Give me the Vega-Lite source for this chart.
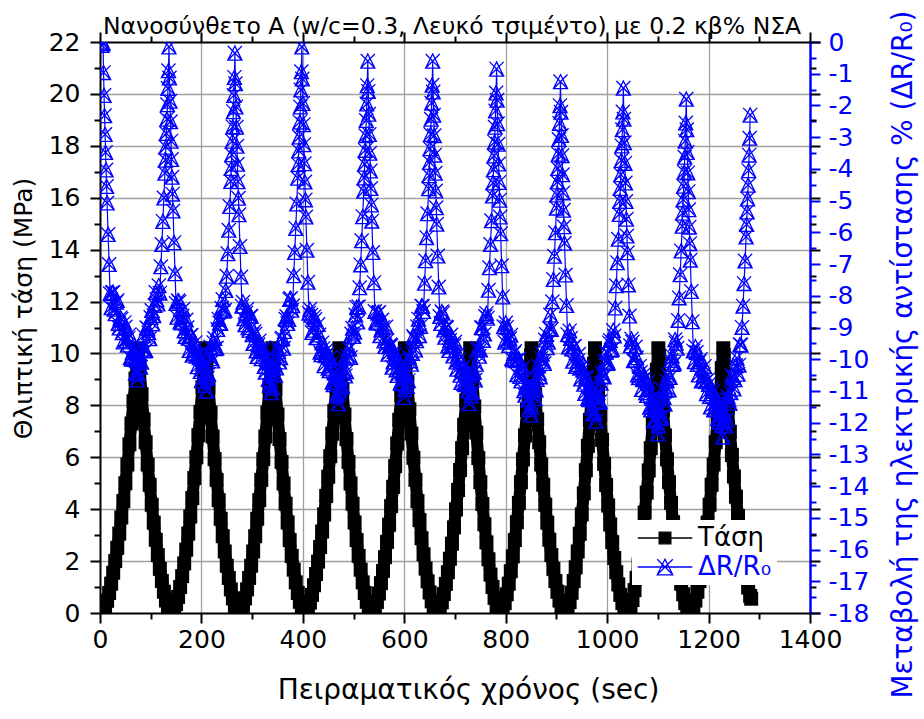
{
"$schema": "https://vega.github.io/schema/vega-lite/v6.json",
"width": 710, "height": 571,
"autosize": {"type": "none"},
"padding": {"left": 100, "top": 42, "right": 114, "bottom": 106},
"background": "white",
"config": {"font": "DejaVu Sans", "view": {"stroke": null}, "axis": {"labelFont": "DejaVu Sans", "titleFont": "DejaVu Sans", "titleFontWeight": "normal", "labelOverlap": false, "labelFlush": false}},
"title": {"text": "Νανοσύνθετο A (w/c=0.3, Λευκό τσιμέντο) με 0.2 κβ% ΝΣΑ", "fontSize": 23.5, "fontWeight": "normal", "anchor": "start", "frame": "group", "dx": 3, "offset": -52, "baseline": "bottom", "font": "DejaVu Sans", "color": "black"},
"datasets": {
"stress": [
{"t":2,"s":0},{"t":6,"s":0.07},{"t":10,"s":0.24},{"t":14,"s":0.47},{"t":18,"s":0.77},{"t":22,"s":1.13},{"t":26,"s":1.55},{"t":30,"s":2.0},{"t":34,"s":2.51},{"t":38,"s":3.06},{"t":42,"s":3.68},{"t":46,"s":4.31},{"t":50,"s":5.0},{"t":54,"s":5.72},{"t":58,"s":6.5},{"t":62,"s":7.3},{"t":66,"s":8.16},{"t":70,"s":9.03},{"t":74,"s":10.0},{"t":75,"s":10.2},{"t":78,"s":9.44},{"t":82,"s":8.43},{"t":86,"s":7.46},{"t":90,"s":6.58},{"t":94,"s":5.72},{"t":98,"s":4.94},{"t":102,"s":4.17},{"t":106,"s":3.48},{"t":110,"s":2.82},{"t":114,"s":2.23},{"t":118,"s":1.7},{"t":122,"s":1.23},{"t":126,"s":0.82},{"t":130,"s":0.48},{"t":134,"s":0.22},{"t":138,"s":0.05},
{"t":142,"s":0.0},{"t":146,"s":0.12},{"t":150,"s":0.34},{"t":154,"s":0.62},{"t":158,"s":1.0},{"t":162,"s":1.42},{"t":166,"s":1.91},{"t":170,"s":2.44},{"t":174,"s":3.06},{"t":178,"s":3.72},{"t":182,"s":4.43},{"t":186,"s":5.2},{"t":190,"s":6.0},{"t":194,"s":6.85},{"t":198,"s":7.75},{"t":202,"s":8.7},{"t":206,"s":9.68},{"t":208,"s":10.2},{"t":210,"s":9.68},{"t":214,"s":8.68},{"t":218,"s":7.72},{"t":222,"s":6.8},{"t":226,"s":5.93},{"t":230,"s":5.13},{"t":234,"s":4.35},{"t":238,"s":3.63},{"t":242,"s":2.96},{"t":246,"s":2.37},{"t":250,"s":1.82},{"t":254,"s":1.35},{"t":258,"s":0.91},{"t":262,"s":0.56},{"t":266,"s":0.28},{"t":270,"s":0.09},{"t":274,"s":0},
{"t":278,"s":0.09},{"t":282,"s":0.28},{"t":286,"s":0.56},{"t":290,"s":0.91},{"t":294,"s":1.35},{"t":298,"s":1.82},{"t":302,"s":2.37},{"t":306,"s":2.96},{"t":310,"s":3.63},{"t":314,"s":4.35},{"t":318,"s":5.13},{"t":322,"s":5.93},{"t":326,"s":6.8},{"t":330,"s":7.72},{"t":334,"s":8.68},{"t":338,"s":9.68},{"t":340,"s":10.2},{"t":342,"s":9.66},{"t":346,"s":8.63},{"t":350,"s":7.65},{"t":354,"s":6.7},{"t":358,"s":5.82},{"t":362,"s":4.99},{"t":366,"s":4.21},{"t":370,"s":3.49},{"t":374,"s":2.81},{"t":378,"s":2.2},{"t":382,"s":1.67},{"t":386,"s":1.18},{"t":390,"s":0.77},{"t":394,"s":0.43},{"t":398,"s":0.18},{"t":402,"s":0.03},
{"t":406,"s":0.02},{"t":410,"s":0.16},{"t":414,"s":0.4},{"t":418,"s":0.7},{"t":422,"s":1.07},{"t":426,"s":1.5},{"t":430,"s":1.98},{"t":434,"s":2.54},{"t":438,"s":3.14},{"t":442,"s":3.8},{"t":446,"s":4.51},{"t":450,"s":5.25},{"t":454,"s":6.04},{"t":458,"s":6.91},{"t":462,"s":7.78},{"t":466,"s":8.73},{"t":470,"s":9.71},{"t":472,"s":10.2},{"t":474,"s":9.66},{"t":478,"s":8.63},{"t":482,"s":7.65},{"t":486,"s":6.7},{"t":490,"s":5.82},{"t":494,"s":4.99},{"t":498,"s":4.21},{"t":502,"s":3.49},{"t":506,"s":2.81},{"t":510,"s":2.2},{"t":514,"s":1.67},{"t":518,"s":1.18},{"t":522,"s":0.77},{"t":526,"s":0.43},{"t":530,"s":0.18},{"t":534,"s":0.03},
{"t":538,"s":0.03},{"t":542,"s":0.18},{"t":546,"s":0.42},{"t":550,"s":0.75},{"t":554,"s":1.15},{"t":558,"s":1.62},{"t":562,"s":2.15},{"t":566,"s":2.74},{"t":570,"s":3.4},{"t":574,"s":4.12},{"t":578,"s":4.86},{"t":582,"s":5.66},{"t":586,"s":6.53},{"t":590,"s":7.44},{"t":594,"s":8.4},{"t":598,"s":9.4},{"t":601,"s":10.2},{"t":602,"s":9.92},{"t":606,"s":8.87},{"t":610,"s":7.85},{"t":614,"s":6.91},{"t":618,"s":5.98},{"t":622,"s":5.13},{"t":626,"s":4.31},{"t":630,"s":3.58},{"t":634,"s":2.88},{"t":638,"s":2.26},{"t":642,"s":1.71},{"t":646,"s":1.22},{"t":650,"s":0.79},{"t":654,"s":0.45},{"t":658,"s":0.19},{"t":662,"s":0.03},
{"t":666,"s":0.03},{"t":670,"s":0.17},{"t":674,"s":0.41},{"t":678,"s":0.73},{"t":682,"s":1.12},{"t":686,"s":1.57},{"t":690,"s":2.09},{"t":694,"s":2.67},{"t":698,"s":3.3},{"t":702,"s":3.99},{"t":706,"s":4.74},{"t":710,"s":5.51},{"t":714,"s":6.35},{"t":718,"s":7.25},{"t":722,"s":8.19},{"t":726,"s":9.16},{"t":730,"s":10.2},{"t":734,"s":9.03},{"t":738,"s":7.96},{"t":742,"s":6.95},{"t":746,"s":5.97},{"t":750,"s":5.04},{"t":754,"s":4.2},{"t":758,"s":3.42},{"t":762,"s":2.72},{"t":766,"s":2.07},{"t":770,"s":1.48},{"t":774,"s":1.0},{"t":778,"s":0.58},{"t":782,"s":0.27},{"t":786,"s":0.06},
{"t":790,"s":0.0},{"t":794,"s":0.14},{"t":798,"s":0.38},{"t":802,"s":0.72},{"t":806,"s":1.13},{"t":810,"s":1.61},{"t":814,"s":2.18},{"t":818,"s":2.81},{"t":822,"s":3.5},{"t":826,"s":4.24},{"t":830,"s":5.04},{"t":834,"s":5.92},{"t":838,"s":6.84},{"t":842,"s":7.82},{"t":846,"s":8.83},{"t":850,"s":9.92},{"t":851,"s":10.2},{"t":854,"s":9.44},{"t":858,"s":8.43},{"t":862,"s":7.46},{"t":866,"s":6.58},{"t":870,"s":5.72},{"t":874,"s":4.94},{"t":878,"s":4.17},{"t":882,"s":3.48},{"t":886,"s":2.82},{"t":890,"s":2.23},{"t":894,"s":1.7},{"t":898,"s":1.23},{"t":902,"s":0.82},{"t":906,"s":0.48},{"t":910,"s":0.22},{"t":914,"s":0.05},
{"t":918,"s":0.0},{"t":922,"s":0.15},{"t":926,"s":0.42},{"t":930,"s":0.78},{"t":934,"s":1.23},{"t":938,"s":1.76},{"t":942,"s":2.37},{"t":946,"s":3.05},{"t":950,"s":3.8},{"t":954,"s":4.61},{"t":958,"s":5.5},{"t":962,"s":6.44},{"t":966,"s":7.44},{"t":970,"s":8.5},{"t":974,"s":9.61},{"t":976,"s":10.2},{"t":978,"s":9.65},{"t":982,"s":8.61},{"t":986,"s":7.62},{"t":990,"s":6.67},{"t":994,"s":5.75},{"t":998,"s":4.93},{"t":1002,"s":4.14},{"t":1006,"s":3.41},{"t":1010,"s":2.73},{"t":1014,"s":2.12},{"t":1018,"s":1.57},{"t":1022,"s":1.1},{"t":1026,"s":0.7},{"t":1030,"s":0.38},{"t":1034,"s":0.1},{"t":1038,"s":-0.2},
{"t":1042,"s":-0.15},{"t":1046,"s":0.2},{"t":1050,"s":0.5},{"t":1054,"s":0.88},{"t":1058,"s":1.35},{"t":1062,"s":1.87},{"t":1066,"s":2.46},{"t":1070,"s":3.14},{"t":1074,"s":3.87},{"t":1078,"s":4.64},{"t":1082,"s":5.49},{"t":1086,"s":6.35},{"t":1090,"s":7.32},{"t":1094,"s":8.33},{"t":1098,"s":9.37},{"t":1101,"s":10.2},{"t":1102,"s":9.92},{"t":1106,"s":8.83},{"t":1110,"s":7.82},{"t":1114,"s":6.84},{"t":1118,"s":5.92},{"t":1122,"s":5.04},{"t":1126,"s":4.24},{"t":1130,"s":3.5},{"t":1134,"s":2.81},{"t":1138,"s":2.18},{"t":1142,"s":1.61},{"t":1146,"s":1.13},{"t":1150,"s":0.72},{"t":1154,"s":0.38},{"t":1158,"s":0.1},{"t":1162,"s":-0.25},
{"t":1166,"s":-0.05},{"t":1170,"s":0.2},{"t":1174,"s":0.48},{"t":1178,"s":0.82},{"t":1182,"s":1.23},{"t":1186,"s":1.7},{"t":1190,"s":2.23},{"t":1194,"s":2.82},{"t":1198,"s":3.48},{"t":1202,"s":4.17},{"t":1206,"s":4.94},{"t":1210,"s":5.72},{"t":1214,"s":6.58},{"t":1218,"s":7.46},{"t":1222,"s":8.43},{"t":1226,"s":9.44},{"t":1229,"s":10.2},{"t":1230,"s":9.94},{"t":1234,"s":8.92},{"t":1238,"s":7.89},{"t":1242,"s":6.98},{"t":1246,"s":6.09},{"t":1250,"s":5.26},{"t":1254,"s":4.48},{"t":1258,"s":3.74},{"t":1262,"s":3.05},{"t":1266,"s":2.44},{"t":1270,"s":1.87},{"t":1274,"s":1.37},{"t":1278,"s":0.98},{"t":1282,"s":0.66},{"t":1284,"s":0.55}
],
"dr": [
{"t":4,"r":-0.1},{"t":5,"r":0.0},{"t":6,"r":-0.05},{"t":7,"r":-0.96},{"t":8,"r":-1.68},{"t":9,"r":-2.32},{"t":10,"r":-2.91},{"t":11,"r":-3.48},{"t":12,"r":-4.03},{"t":13,"r":-4.55},{"t":14,"r":-5.07},{"t":16,"r":-6.06},{"t":18,"r":-7.01},{"t":20,"r":-7.93},
{"t":22,"r":-8.37},{"t":24,"r":-7.9},{"t":26,"r":-7.89},{"t":28,"r":-8.42},{"t":30,"r":-8.56},{"t":32,"r":-8.2},{"t":34,"r":-8.14},{"t":36,"r":-8.87},{"t":38,"r":-9.01},{"t":40,"r":-8.69},{"t":42,"r":-8.73},{"t":44,"r":-9.16},{"t":46,"r":-9.45},{"t":48,"r":-8.84},{"t":50,"r":-8.98},{"t":52,"r":-9.41},{"t":54,"r":-9.55},{"t":56,"r":-9.33},{"t":58,"r":-9.22},{"t":60,"r":-9.95},{"t":62,"r":-9.99},{"t":64,"r":-9.78},{"t":66,"r":-9.72},{"t":68,"r":-10.0},{"t":70,"r":-10.44},{"t":72,"r":-9.97},{"t":74,"r":-10.65},{"t":75,"r":-10.45},
{"t":76,"r":-9.99},{"t":78,"r":-9.82},{"t":80,"r":-10.25},{"t":82,"r":-10.09},{"t":84,"r":-9.67},{"t":86,"r":-9.25},{"t":88,"r":-9.73},{"t":90,"r":-9.72},{"t":92,"r":-9.0},{"t":94,"r":-9.03},{"t":96,"r":-9.16},{"t":98,"r":-9.35},{"t":100,"r":-8.68},{"t":102,"r":-8.46},{"t":104,"r":-8.88},{"t":106,"r":-8.62},{"t":108,"r":-8.3},{"t":110,"r":-7.89},{"t":112,"r":-8.12},{"t":114,"r":-8.25},{"t":116,"r":-7.68},{"t":118,"r":-7.91},
{"t":120,"r":-7.08},{"t":122,"r":-6.38},{"t":124,"r":-5.65},{"t":126,"r":-4.91},{"t":128,"r":-4.13},{"t":129,"r":-3.72},{"t":130,"r":-3.31},{"t":131,"r":-2.88},{"t":132,"r":-2.43},{"t":133,"r":-1.97},{"t":134,"r":-1.46},{"t":135,"r":-0.9},{"t":136,"r":-0.15},
{"t":137,"r":-1.13},{"t":138,"r":-1.86},{"t":139,"r":-2.51},{"t":140,"r":-3.12},{"t":141,"r":-3.7},{"t":142,"r":-4.26},{"t":143,"r":-4.79},{"t":144,"r":-5.32},{"t":146,"r":-6.32},{"t":148,"r":-7.3},{"t":150,"r":-8.24},
{"t":152,"r":-8.67},{"t":154,"r":-8.15},{"t":156,"r":-8.19},{"t":158,"r":-8.82},{"t":160,"r":-8.85},{"t":162,"r":-8.63},{"t":164,"r":-8.42},{"t":166,"r":-9.1},{"t":168,"r":-9.28},{"t":170,"r":-8.76},{"t":172,"r":-9.0},{"t":174,"r":-9.33},{"t":176,"r":-9.72},{"t":178,"r":-9.25},{"t":180,"r":-9.24},{"t":182,"r":-9.87},{"t":184,"r":-9.81},{"t":186,"r":-9.69},{"t":188,"r":-9.47},{"t":190,"r":-9.9},{"t":192,"r":-10.23},{"t":194,"r":-9.86},{"t":196,"r":-9.95},{"t":198,"r":-10.38},{"t":200,"r":-10.67},{"t":202,"r":-10.15},{"t":204,"r":-10.19},{"t":206,"r":-10.82},{"t":208,"r":-10.55},{"t":210,"r":-11.0},
{"t":212,"r":-10.59},{"t":214,"r":-10.47},{"t":216,"r":-9.84},{"t":218,"r":-9.61},{"t":220,"r":-9.98},{"t":222,"r":-10.05},{"t":224,"r":-9.47},{"t":226,"r":-9.34},{"t":228,"r":-9.66},{"t":230,"r":-9.64},{"t":232,"r":-9.06},{"t":234,"r":-8.73},{"t":236,"r":-8.85},{"t":238,"r":-8.87},{"t":240,"r":-8.39},{"t":242,"r":-8.11},{"t":244,"r":-8.48},{"t":246,"r":-8.45},{"t":248,"r":-7.83},
{"t":250,"r":-7.38},{"t":252,"r":-6.67},{"t":254,"r":-5.93},{"t":256,"r":-5.18},{"t":258,"r":-4.39},{"t":259,"r":-3.98},{"t":260,"r":-3.55},{"t":261,"r":-3.12},{"t":262,"r":-2.67},{"t":263,"r":-2.19},{"t":264,"r":-1.68},{"t":265,"r":-1.11},{"t":266,"r":-0.35},
{"t":267,"r":-1.31},{"t":268,"r":-2.04},{"t":269,"r":-2.68},{"t":270,"r":-3.28},{"t":271,"r":-3.85},{"t":272,"r":-4.4},{"t":273,"r":-4.92},{"t":274,"r":-5.44},{"t":276,"r":-6.44},{"t":278,"r":-7.4},{"t":280,"r":-8.32},
{"t":282,"r":-8.2},{"t":284,"r":-8.72},{"t":286,"r":-8.91},{"t":288,"r":-8.54},{"t":290,"r":-8.42},{"t":292,"r":-9.0},{"t":294,"r":-9.08},{"t":296,"r":-8.65},{"t":298,"r":-8.64},{"t":300,"r":-9.22},{"t":302,"r":-9.5},{"t":304,"r":-9.12},{"t":306,"r":-9.2},{"t":308,"r":-9.73},{"t":310,"r":-9.91},{"t":312,"r":-9.54},{"t":314,"r":-9.42},{"t":316,"r":-9.75},{"t":318,"r":-9.98},{"t":320,"r":-9.7},{"t":322,"r":-9.64},{"t":324,"r":-10.22},{"t":326,"r":-10.4},{"t":328,"r":-9.97},{"t":330,"r":-10.1},{"t":332,"r":-10.63},{"t":334,"r":-10.81},{"t":336,"r":-10.44},{"t":338,"r":-11.05},{"t":340,"r":-10.9},
{"t":342,"r":-10.27},{"t":344,"r":-10.14},{"t":346,"r":-10.5},{"t":348,"r":-10.27},{"t":350,"r":-9.64},{"t":352,"r":-9.76},{"t":354,"r":-10.08},{"t":356,"r":-9.95},{"t":358,"r":-9.36},{"t":360,"r":-9.33},{"t":362,"r":-9.65},{"t":364,"r":-9.12},{"t":366,"r":-8.73},{"t":368,"r":-8.65},{"t":370,"r":-8.87},{"t":372,"r":-8.74},{"t":374,"r":-8.11},{"t":376,"r":-8.08},{"t":378,"r":-8.45},{"t":380,"r":-8.31},
{"t":382,"r":-7.36},{"t":384,"r":-6.63},{"t":386,"r":-5.87},{"t":388,"r":-5.1},{"t":390,"r":-4.29},{"t":391,"r":-3.86},{"t":392,"r":-3.43},{"t":393,"r":-2.99},{"t":394,"r":-2.52},{"t":395,"r":-2.04},{"t":396,"r":-1.51},{"t":397,"r":-0.93},{"t":398,"r":-0.15},
{"t":399,"r":-1.16},{"t":400,"r":-1.93},{"t":401,"r":-2.6},{"t":402,"r":-3.23},{"t":403,"r":-3.83},{"t":404,"r":-4.41},{"t":405,"r":-4.97},{"t":406,"r":-5.51},{"t":408,"r":-6.56},{"t":410,"r":-7.57},{"t":412,"r":-8.54},
{"t":414,"r":-8.42},{"t":416,"r":-8.61},{"t":418,"r":-9.15},{"t":420,"r":-9.08},{"t":422,"r":-8.66},{"t":424,"r":-8.74},{"t":426,"r":-9.32},{"t":428,"r":-9.31},{"t":430,"r":-8.9},{"t":432,"r":-9.23},{"t":434,"r":-9.77},{"t":436,"r":-9.85},{"t":438,"r":-9.48},{"t":440,"r":-9.66},{"t":442,"r":-10.2},{"t":444,"r":-9.88},{"t":446,"r":-9.72},{"t":448,"r":-9.85},{"t":450,"r":-10.28},{"t":452,"r":-10.36},{"t":454,"r":-9.95},{"t":456,"r":-10.14},{"t":458,"r":-10.72},{"t":460,"r":-10.8},{"t":462,"r":-10.43},{"t":464,"r":-10.61},{"t":466,"r":-11.15},{"t":468,"r":-11.09},{"t":470,"r":-11.4},{"t":472,"r":-11.0},
{"t":474,"r":-10.62},{"t":476,"r":-10.88},{"t":478,"r":-10.84},{"t":480,"r":-10.35},{"t":482,"r":-9.96},{"t":484,"r":-10.52},{"t":486,"r":-10.39},{"t":488,"r":-9.9},{"t":490,"r":-9.66},{"t":492,"r":-9.67},{"t":494,"r":-9.94},{"t":496,"r":-9.2},{"t":498,"r":-9.02},{"t":500,"r":-9.28},{"t":502,"r":-9.14},{"t":504,"r":-8.6},{"t":506,"r":-8.36},{"t":508,"r":-8.82},{"t":510,"r":-8.34},
{"t":512,"r":-7.74},{"t":514,"r":-7.02},{"t":516,"r":-6.26},{"t":518,"r":-5.5},{"t":520,"r":-4.7},{"t":521,"r":-4.28},{"t":522,"r":-3.85},{"t":523,"r":-3.41},{"t":524,"r":-2.95},{"t":525,"r":-2.47},{"t":526,"r":-1.95},{"t":527,"r":-1.37},{"t":528,"r":-0.6},
{"t":529,"r":-1.55},{"t":530,"r":-2.27},{"t":531,"r":-2.91},{"t":532,"r":-3.5},{"t":533,"r":-4.06},{"t":534,"r":-4.61},{"t":535,"r":-5.13},{"t":536,"r":-5.64},{"t":538,"r":-6.63},{"t":540,"r":-7.58},{"t":542,"r":-8.49},
{"t":544,"r":-8.83},{"t":546,"r":-8.86},{"t":548,"r":-8.54},{"t":550,"r":-8.52},{"t":552,"r":-9.25},{"t":554,"r":-9.07},{"t":556,"r":-8.76},{"t":558,"r":-8.99},{"t":560,"r":-9.42},{"t":562,"r":-9.59},{"t":564,"r":-8.98},{"t":566,"r":-9.41},{"t":568,"r":-9.84},{"t":570,"r":-9.61},{"t":572,"r":-9.54},{"t":574,"r":-9.57},{"t":576,"r":-10.25},{"t":578,"r":-10.08},{"t":580,"r":-9.76},{"t":582,"r":-9.84},{"t":584,"r":-10.33},{"t":586,"r":-10.51},{"t":588,"r":-9.99},{"t":590,"r":-10.31},{"t":592,"r":-10.74},{"t":594,"r":-10.77},{"t":596,"r":-10.45},{"t":598,"r":-10.43},{"t":600,"r":-11.2},{"t":601,"r":-10.95},
{"t":604,"r":-10.49},{"t":606,"r":-10.85},{"t":608,"r":-10.67},{"t":610,"r":-9.93},{"t":612,"r":-10.04},{"t":614,"r":-10.15},{"t":616,"r":-9.81},{"t":618,"r":-9.28},{"t":620,"r":-9.34},{"t":622,"r":-9.7},{"t":624,"r":-9.41},{"t":626,"r":-8.97},{"t":628,"r":-8.73},{"t":630,"r":-9.25},{"t":632,"r":-8.96},{"t":634,"r":-8.32},{"t":636,"r":-8.33},{"t":638,"r":-8.49},
{"t":640,"r":-7.6},{"t":642,"r":-6.89},{"t":644,"r":-6.16},{"t":646,"r":-5.41},{"t":648,"r":-4.62},{"t":649,"r":-4.21},{"t":650,"r":-3.79},{"t":651,"r":-3.36},{"t":652,"r":-2.91},{"t":653,"r":-2.43},{"t":654,"r":-1.92},{"t":655,"r":-1.36},{"t":656,"r":-0.6},
{"t":657,"r":-1.57},{"t":658,"r":-2.3},{"t":659,"r":-2.95},{"t":660,"r":-3.56},{"t":661,"r":-4.13},{"t":662,"r":-4.69},{"t":663,"r":-5.22},{"t":664,"r":-5.74},{"t":666,"r":-6.74},{"t":668,"r":-7.72},{"t":670,"r":-8.65},
{"t":672,"r":-8.87},{"t":674,"r":-8.5},{"t":676,"r":-8.54},{"t":678,"r":-9.07},{"t":680,"r":-9.3},{"t":682,"r":-8.98},{"t":684,"r":-9.0},{"t":686,"r":-9.58},{"t":688,"r":-9.72},{"t":690,"r":-9.4},{"t":692,"r":-9.23},{"t":694,"r":-9.61},{"t":696,"r":-9.89},{"t":698,"r":-9.56},{"t":700,"r":-9.45},{"t":702,"r":-10.08},{"t":704,"r":-10.31},{"t":706,"r":-9.84},{"t":708,"r":-10.02},{"t":710,"r":-10.5},{"t":712,"r":-10.73},{"t":714,"r":-10.31},{"t":716,"r":-10.24},{"t":718,"r":-10.77},{"t":720,"r":-10.8},{"t":722,"r":-10.43},{"t":724,"r":-10.46},{"t":726,"r":-10.99},{"t":728,"r":-11.4},{"t":730,"r":-10.9},
{"t":732,"r":-11.15},{"t":734,"r":-11.05},{"t":736,"r":-10.4},{"t":738,"r":-10.4},{"t":740,"r":-10.65},{"t":742,"r":-10.15},{"t":744,"r":-9.7},{"t":746,"r":-9.65},{"t":748,"r":-9.9},{"t":750,"r":-9.7},{"t":752,"r":-9.0},{"t":754,"r":-9.0},{"t":756,"r":-9.4},{"t":758,"r":-9.2},{"t":760,"r":-8.65},{"t":762,"r":-8.55},{"t":764,"r":-8.7},
{"t":766,"r":-7.82},{"t":768,"r":-7.11},{"t":770,"r":-6.38},{"t":772,"r":-5.63},{"t":774,"r":-4.85},{"t":775,"r":-4.44},{"t":776,"r":-4.02},{"t":777,"r":-3.59},{"t":778,"r":-3.15},{"t":779,"r":-2.68},{"t":780,"r":-2.17},{"t":781,"r":-1.6},{"t":782,"r":-0.85},
{"t":783,"r":-1.83},{"t":784,"r":-2.57},{"t":785,"r":-3.22},{"t":786,"r":-3.84},{"t":787,"r":-4.42},{"t":788,"r":-4.98},{"t":789,"r":-5.51},{"t":790,"r":-6.04},{"t":792,"r":-7.05},{"t":794,"r":-8.03},{"t":796,"r":-8.97},
{"t":798,"r":-9.46},{"t":800,"r":-8.85},{"t":802,"r":-8.99},{"t":804,"r":-9.42},{"t":806,"r":-9.56},{"t":808,"r":-9.35},{"t":810,"r":-9.24},{"t":812,"r":-9.98},{"t":814,"r":-10.02},{"t":816,"r":-9.81},{"t":818,"r":-9.75},{"t":820,"r":-10.04},{"t":822,"r":-10.48},{"t":824,"r":-10.01},{"t":826,"r":-10.0},{"t":828,"r":-10.54},{"t":830,"r":-10.68},{"t":832,"r":-10.32},{"t":834,"r":-10.26},{"t":836,"r":-10.99},{"t":838,"r":-11.13},{"t":840,"r":-10.81},{"t":842,"r":-10.85},{"t":844,"r":-11.29},{"t":846,"r":-11.58},{"t":848,"r":-10.96},{"t":850,"r":-11.75},{"t":851,"r":-11.5},
{"t":854,"r":-11.05},{"t":856,"r":-10.82},{"t":858,"r":-11.24},{"t":860,"r":-10.96},{"t":862,"r":-10.63},{"t":864,"r":-10.21},{"t":866,"r":-10.43},{"t":868,"r":-10.55},{"t":870,"r":-9.96},{"t":872,"r":-9.84},{"t":874,"r":-10.06},{"t":876,"r":-10.13},{"t":878,"r":-9.39},{"t":880,"r":-9.21},{"t":882,"r":-9.63},{"t":884,"r":-9.46},{"t":886,"r":-9.03},{"t":888,"r":-8.6},{"t":890,"r":-9.06},
{"t":892,"r":-8.18},{"t":894,"r":-7.48},{"t":896,"r":-6.75},{"t":898,"r":-6.01},{"t":900,"r":-5.23},{"t":901,"r":-4.82},{"t":902,"r":-4.41},{"t":903,"r":-3.98},{"t":904,"r":-3.53},{"t":905,"r":-3.07},{"t":906,"r":-2.56},{"t":907,"r":-2.0},{"t":908,"r":-1.25},
{"t":909,"r":-2.21},{"t":910,"r":-2.94},{"t":911,"r":-3.58},{"t":912,"r":-4.18},{"t":913,"r":-4.75},{"t":914,"r":-5.3},{"t":915,"r":-5.82},{"t":916,"r":-6.34},{"t":918,"r":-7.34},{"t":920,"r":-8.3},{"t":922,"r":-9.22},
{"t":924,"r":-9.61},{"t":926,"r":-9.1},{"t":928,"r":-9.34},{"t":930,"r":-9.67},{"t":932,"r":-10.06},{"t":934,"r":-9.6},{"t":936,"r":-9.59},{"t":938,"r":-10.22},{"t":940,"r":-10.16},{"t":942,"r":-10.05},{"t":944,"r":-9.84},{"t":946,"r":-10.28},{"t":948,"r":-10.62},{"t":950,"r":-10.25},{"t":952,"r":-10.34},{"t":954,"r":-10.78},{"t":956,"r":-11.07},{"t":958,"r":-10.55},{"t":960,"r":-10.59},{"t":962,"r":-11.23},{"t":964,"r":-11.27},{"t":966,"r":-11.05},{"t":968,"r":-10.84},{"t":970,"r":-11.53},{"t":972,"r":-11.72},{"t":974,"r":-11.21},{"t":976,"r":-11.7},{"t":978,"r":-11.95},
{"t":980,"r":-11.19},{"t":982,"r":-11.05},{"t":984,"r":-11.36},{"t":986,"r":-11.33},{"t":988,"r":-10.75},{"t":990,"r":-10.42},{"t":992,"r":-10.53},{"t":994,"r":-10.55},{"t":996,"r":-10.06},{"t":998,"r":-9.77},{"t":1000,"r":-10.13},{"t":1002,"r":-10.11},{"t":1004,"r":-9.48},{"t":1006,"r":-9.4},{"t":1008,"r":-9.71},{"t":1010,"r":-9.68},{"t":1012,"r":-9.09},{"t":1014,"r":-9.26},
{"t":1016,"r":-8.38},{"t":1018,"r":-7.68},{"t":1020,"r":-6.95},{"t":1022,"r":-6.21},{"t":1024,"r":-5.43},{"t":1025,"r":-5.02},{"t":1026,"r":-4.61},{"t":1027,"r":-4.18},{"t":1028,"r":-3.73},{"t":1029,"r":-3.27},{"t":1030,"r":-2.76},{"t":1031,"r":-2.2},{"t":1032,"r":-1.45},
{"t":1033,"r":-2.43},{"t":1034,"r":-3.17},{"t":1035,"r":-3.82},{"t":1036,"r":-4.44},{"t":1037,"r":-5.02},{"t":1038,"r":-5.58},{"t":1039,"r":-6.11},{"t":1040,"r":-6.64},{"t":1042,"r":-7.65},{"t":1044,"r":-8.63},{"t":1046,"r":-9.57},
{"t":1048,"r":-9.36},{"t":1050,"r":-9.45},{"t":1052,"r":-10.04},{"t":1054,"r":-10.02},{"t":1056,"r":-9.61},{"t":1058,"r":-9.95},{"t":1060,"r":-10.49},{"t":1062,"r":-10.58},{"t":1064,"r":-10.22},{"t":1066,"r":-10.41},{"t":1068,"r":-10.95},{"t":1070,"r":-10.64},{"t":1072,"r":-10.48},{"t":1074,"r":-10.61},{"t":1076,"r":-11.05},{"t":1078,"r":-11.14},{"t":1080,"r":-10.73},{"t":1082,"r":-10.92},{"t":1084,"r":-11.51},{"t":1086,"r":-11.59},{"t":1088,"r":-11.23},{"t":1090,"r":-11.41},{"t":1092,"r":-11.95},{"t":1094,"r":-11.89},{"t":1096,"r":-11.48},{"t":1098,"r":-11.56},{"t":1100,"r":-12.35},{"t":1101,"r":-12.1},
{"t":1104,"r":-11.65},{"t":1106,"r":-11.86},{"t":1108,"r":-11.82},{"t":1110,"r":-10.99},{"t":1112,"r":-11.2},{"t":1114,"r":-11.41},{"t":1116,"r":-10.97},{"t":1118,"r":-10.68},{"t":1120,"r":-10.49},{"t":1122,"r":-10.96},{"t":1124,"r":-10.57},{"t":1126,"r":-10.03},{"t":1128,"r":-9.89},{"t":1130,"r":-10.16},{"t":1132,"r":-10.12},{"t":1134,"r":-9.38},{"t":1136,"r":-9.49},{"t":1138,"r":-9.65},
{"t":1140,"r":-8.77},{"t":1142,"r":-8.06},{"t":1144,"r":-7.33},{"t":1146,"r":-6.58},{"t":1148,"r":-5.8},{"t":1149,"r":-5.39},{"t":1150,"r":-4.97},{"t":1151,"r":-4.54},{"t":1152,"r":-4.1},{"t":1153,"r":-3.63},{"t":1154,"r":-3.12},{"t":1155,"r":-2.55},{"t":1156,"r":-1.8},
{"t":1157,"r":-2.76},{"t":1158,"r":-3.48},{"t":1159,"r":-4.12},{"t":1160,"r":-4.71},{"t":1161,"r":-5.28},{"t":1162,"r":-5.83},{"t":1163,"r":-6.35},{"t":1164,"r":-6.87},{"t":1166,"r":-7.86},{"t":1168,"r":-8.81},{"t":1170,"r":-9.73},
{"t":1172,"r":-10.07},{"t":1174,"r":-9.6},{"t":1176,"r":-9.78},{"t":1178,"r":-10.16},{"t":1180,"r":-10.49},{"t":1182,"r":-10.07},{"t":1184,"r":-10.0},{"t":1186,"r":-10.68},{"t":1188,"r":-10.66},{"t":1190,"r":-10.48},{"t":1192,"r":-10.22},{"t":1194,"r":-10.7},{"t":1196,"r":-11.08},{"t":1198,"r":-10.65},{"t":1200,"r":-10.79},{"t":1202,"r":-11.17},{"t":1204,"r":-11.5},{"t":1206,"r":-10.92},{"t":1208,"r":-11.01},{"t":1210,"r":-11.59},{"t":1212,"r":-11.57},{"t":1214,"r":-11.4},{"t":1216,"r":-11.23},{"t":1218,"r":-11.86},{"t":1220,"r":-11.99},{"t":1222,"r":-11.52},{"t":1224,"r":-11.7},{"t":1226,"r":-12.08},{"t":1228,"r":-12.45},{"t":1229,"r":-11.95},
{"t":1232,"r":-11.74},{"t":1234,"r":-12.1},{"t":1236,"r":-11.91},{"t":1238,"r":-11.17},{"t":1240,"r":-11.28},{"t":1242,"r":-11.39},{"t":1244,"r":-11.05},{"t":1246,"r":-10.51},{"t":1248,"r":-10.57},{"t":1250,"r":-10.93},{"t":1252,"r":-10.64},{"t":1254,"r":-10.2},{"t":1256,"r":-9.96},{"t":1258,"r":-10.47},{"t":1260,"r":-10.18},{"t":1262,"r":-9.54},{"t":1264,"r":-9.55},
{"t":1266,"r":-8.99},{"t":1268,"r":-8.32},{"t":1270,"r":-7.61},{"t":1272,"r":-6.9},{"t":1274,"r":-6.14},{"t":1275,"r":-5.75},{"t":1276,"r":-5.35},{"t":1277,"r":-4.94},{"t":1278,"r":-4.51},{"t":1279,"r":-4.05},{"t":1280,"r":-3.56},{"t":1281,"r":-3.03},{"t":1282,"r":-2.3}
],
"leg": [{"series": "Τάση"}, {"series": "ΔR/R₀"}]
},
"layer": [
{
"data": {"name": "stress"},
"encoding": {
"x": {"field": "t", "type": "quantitative", "scale": {"domain": [0, 1400], "nice": false, "zero": false},
"axis": {"orient": "bottom", "values": [0,100,200,300,400,500,600,700,800,900,1000,1100,1200,1300,1400], "labelExpr": "datum.value % 200 === 0 ? toString(datum.value) : ''", "labelFontSize": 25, "labelColor": "black", "labelPadding": 4, "tickColor": "black", "tickWidth": 2, "tickSize": {"condition": {"test": "datum.value % 200 === 0", "value": 10}, "value": 6}, "domainColor": "black", "domainWidth": 2, "grid": true, "gridColor": "#a0a0a0", "gridWidth": 1.3, "gridOpacity": {"condition": {"test": "datum.value % 200 === 0 && datum.value > 0 && datum.value < 1400", "value": 1}, "value": 0}, "title": "Πειραματικός χρόνος (sec)", "titleFontSize": 28, "titleColor": "black", "titleX": 368, "titleY": 77, "titleAlign": "center", "titleBaseline": "middle"}},
"y": {"field": "s", "type": "quantitative", "scale": {"domain": [0, 22], "nice": false, "zero": false},
"axis": {"orient": "left", "values": [0,1,2,3,4,5,6,7,8,9,10,11,12,13,14,15,16,17,18,19,20,21,22], "labelExpr": "datum.value % 2 === 0 ? datum.label : ''", "labelFontSize": 25, "labelColor": "black", "labelPadding": 10, "tickColor": "black", "tickWidth": 2, "tickSize": {"condition": {"test": "datum.value % 2 === 0", "value": 10}, "value": 6}, "domainColor": "black", "domainWidth": 2, "grid": true, "gridColor": "#a0a0a0", "gridWidth": 1.3, "gridOpacity": {"condition": {"test": "datum.value % 2 === 0 && datum.value > 0 && datum.value < 22", "value": 1}, "value": 0}, "title": "Θλιπτική τάση (MPa)", "titleFontSize": 25, "titleColor": "black", "titleAngle": 270, "titleX": -77, "titleY": 266, "titleAlign": "center", "titleBaseline": "middle"}}
},
"layer": [
{"mark": {"type": "line", "color": "black", "strokeWidth": 12, "strokeJoin": "round", "clip": true}},
{"mark": {"type": "point", "shape": "square", "filled": true, "color": "black", "size": 196, "opacity": 1, "clip": true}}
]
},
{
"data": {"name": "dr"},
"encoding": {
"x": {"field": "t", "type": "quantitative", "scale": {"domain": [0, 1400], "nice": false, "zero": false},
"axis": {"orient": "top", "values": [0,100,200,300,400,500,600,700,800,900,1000,1100,1200,1300,1400], "labels": false, "tickColor": "black", "tickWidth": 2, "tickSize": {"condition": {"test": "datum.value % 200 === 0", "value": 10}, "value": 6}, "domainColor": "black", "domainWidth": 2, "grid": false, "title": null}},
"y": {"field": "r", "type": "quantitative", "scale": {"domain": [-18, 0], "nice": false, "zero": false},
"axis": {"orient": "right", "values": [0,-0.5,-1,-1.5,-2,-2.5,-3,-3.5,-4,-4.5,-5,-5.5,-6,-6.5,-7,-7.5,-8,-8.5,-9,-9.5,-10,-10.5,-11,-11.5,-12,-12.5,-13,-13.5,-14,-14.5,-15,-15.5,-16,-16.5,-17,-17.5,-18], "labelExpr": "datum.value % 1 === 0 ? toString(datum.value) : ''", "labelFontSize": 25, "labelColor": "#0000ff", "labelPadding": 8, "tickColor": "#0000ff", "tickWidth": 2, "tickSize": {"condition": {"test": "datum.value % 1 === 0", "value": 10}, "value": 6}, "domainColor": "#0000ff", "domainWidth": 2.5, "grid": false, "title": "Μεταβολή της ηλεκτρικής αντίστασης % (ΔR/R₀)", "titleFontSize": 27.8, "titleColor": "#0000ff", "titleAngle": 270, "titleX": 93, "titleY": 312, "titleAlign": "center", "titleBaseline": "middle"}}
},
"layer": [
{"mark": {"type": "line", "color": "#0000ff", "strokeWidth": 1.2, "clip": true}},
{"mark": {"type": "point", "shape": "M0,-1L1,1L-1,1ZM-1,-1L1,1M1,-1L-1,1", "filled": false, "color": "#0000ff", "size": 200, "strokeWidth": 1.3, "opacity": 1, "clip": true}}
]
},
{
"data": {"name": "leg"},
"transform": [{"filter": "datum.series === 'none'"}],
"mark": {"type": "point", "opacity": 1},
"encoding": {
"x": {"field": "t", "type": "quantitative", "scale": {"domain": [0, 1400], "nice": false, "zero": false}, "axis": null},
"y": {"field": "v", "type": "quantitative", "scale": {"domain": [0, 22], "nice": false, "zero": false},
"axis": {"orient": "right", "values": [0,1,2,3,4,5,6,7,8,9,10,11,12,13,14,15,16,17,18,19,20,21,22], "labels": false, "domain": false, "grid": false, "tickColor": "black", "tickWidth": 2, "tickSize": {"condition": {"test": "datum.value % 2 === 0", "value": 10}, "value": 6}, "title": null}},
"shape": {"field": "series", "type": "nominal", "scale": {"domain": ["Τάση", "ΔR/R₀"], "range": ["M-4.2,0H4.2M-0.9,-0.9H0.9V0.9H-0.9Z", "M-4.2,0H4.2M0,-1.2L1.2,1.2L-1.2,1.2ZM-1.2,-1.2L1.2,1.2M1.2,-1.2L-1.2,1.2"]},
"legend": {"orient": "none", "legendX": 532, "legendY": 478, "zindex": 1, "title": null, "fillColor": "white", "padding": 5, "labelFontSize": 26, "labelFont": "DejaVu Sans", "labelColor": {"expr": "datum.value === 'Τάση' ? '#000000' : '#0000ff'"}, "symbolSize": 169, "symbolOffset": 15, "labelOffset": 20, "rowPadding": 3, "symbolStrokeWidth": 1.3}},
"fill": {"field": "series", "type": "nominal", "scale": {"domain": ["Τάση", "ΔR/R₀"], "range": ["#000000", "transparent"]}},
"stroke": {"field": "series", "type": "nominal", "scale": {"domain": ["Τάση", "ΔR/R₀"], "range": ["#000000", "#0000ff"]}}
}
}
],
"resolve": {"scale": {"x": "independent", "y": "independent"}, "axis": {"x": "independent", "y": "independent"}}
}
